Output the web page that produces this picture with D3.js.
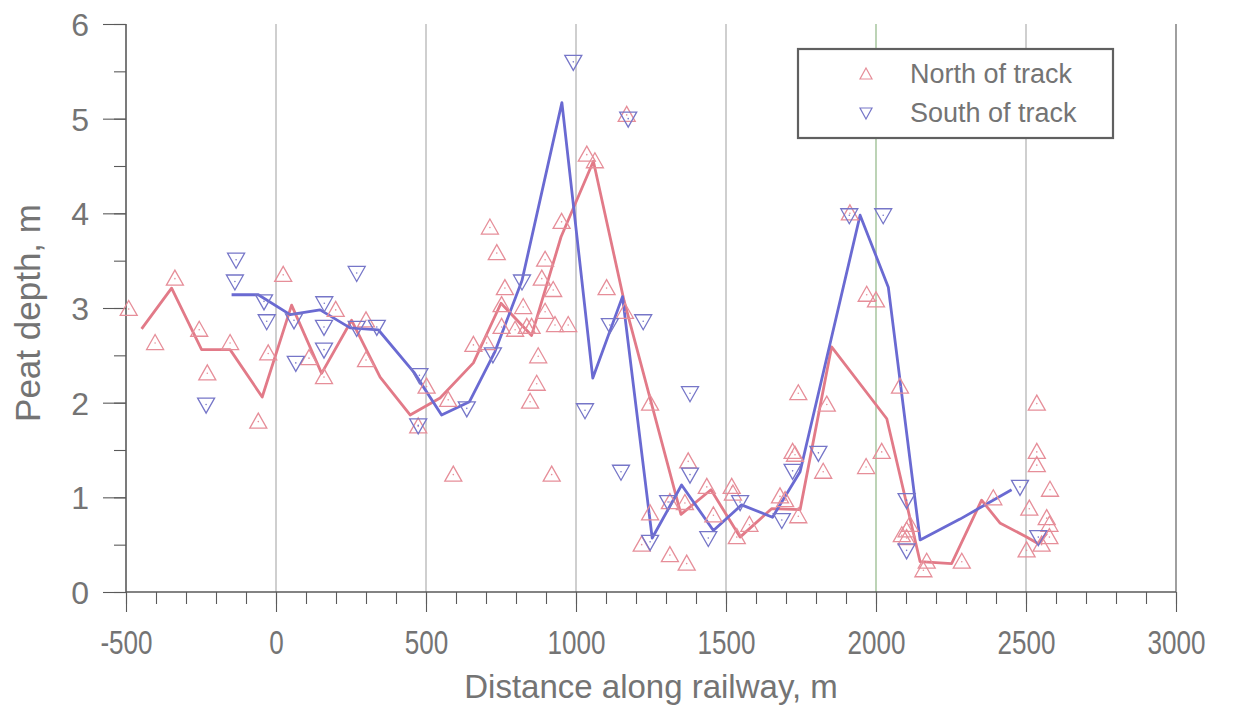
<!DOCTYPE html>
<html>
<head>
<meta charset="utf-8">
<script src="https://cdn.jsdelivr.net/npm/d3@7"></script>
<style>
  html, body { margin: 0; padding: 0; background: #ffffff; }
  svg { display: block; }
  text { font-family: "Liberation Sans", Arial, sans-serif; fill: #747474; }
</style>
</head>
<body>
<svg id="chart" width="1233" height="711"></svg>
<script>
// Peat depth surveys along the railway: individual soundings and running lines
const northPoints = [
  [-491,2.99],[-403,2.63],[-337,3.31],[-256,2.77],[-229,2.31],[-153,2.63],[-59,1.80],[-26,2.52],
  [24,3.35],[110,2.47],[160,2.27],[199,2.98],[300,2.87],[300,2.45],[474,1.75],[502,2.17],
  [574,2.03],[591,1.24],[658,2.61],[702,2.63],[713,3.85],[736,3.58],[763,3.21],[752,3.03],
  [752,2.80],[797,2.77],[824,3.01],[836,2.80],[852,2.80],[847,2.01],[869,2.20],[874,2.49],
  [886,3.31],[897,3.51],[897,2.96],[924,3.19],[930,2.82],[974,2.82],[952,3.91],[919,1.24],
  [1036,4.62],[1063,4.55],[1102,3.21],[1163,2.96],[1169,5.04],[1247,1.99],[1247,0.83],[1219,0.50],
  [1313,0.39],[1369,0.30],[1313,0.95],[1374,1.38],[1363,0.94],[1436,1.11],[1458,0.81],[1519,1.11],
  [1523,1.04],[1536,0.58],[1578,0.71],[1680,1.01],[1697,0.97],[1730,1.45],[1741,2.10],[1836,1.98],
  [1722,1.48],[1824,1.27],[1741,0.80],[1913,4.00],[1969,3.14],[2000,3.08],[2080,2.17],[2019,1.48],
  [1967,1.32],[2102,0.65],[2086,0.60],[2102,0.57],[2113,0.71],[2158,0.23],[2169,0.32],[2286,0.32],
  [2391,0.99],[2536,1.99],[2536,1.48],[2536,1.34],[2580,1.08],[2511,0.88],[2569,0.78],[2578,0.71],
  [2578,0.58],[2502,0.44],[2552,0.50]
];
const southPoints = [
  [-133,3.51],[-137,3.28],[-233,1.98],[-40,3.07],[-31,2.86],[60,2.87],[66,2.42],[161,3.05],
  [160,2.80],[160,2.56],[269,3.37],[269,2.79],[336,2.80],[478,2.29],[474,1.76],[636,1.94],
  [723,2.51],[820,3.28],[991,5.60],[1030,1.92],[1113,2.82],[1174,5.00],[1224,2.86],[1150,1.27],
  [1247,0.53],[1307,0.95],[1380,2.10],[1380,1.24],[1441,0.57],[1547,0.95],[1686,0.76],[1722,1.28],
  [1808,1.47],[1911,3.98],[2024,3.98],[2102,0.97],[2102,0.44],[2480,1.11],[2541,0.58]
];
const northLineX = [-448,-348,-248,-153,-46,52,152,252,347,447,547,658,750,852,950,1058,1160,1350,1450,1547,1652,1747,1852,2036,2147,2252,2352,2413,2502,2541,2569];
const northLineY = [2.78,3.21,2.56,2.56,2.06,3.03,2.31,2.87,2.27,1.87,2.05,2.42,3.05,2.71,3.75,4.55,3.08,0.82,1.08,0.58,0.88,0.87,2.59,1.83,0.32,0.30,0.97,0.73,0.58,0.51,0.62];
const southLineX = [-148,-59,47,147,247,341,460,552,645,730,820,953,1056,1155,1254,1352,1458,1552,1655,1747,1947,2041,2147,2280,2452];
const southLineY = [3.14,3.14,2.93,2.98,2.79,2.77,2.32,1.87,2.01,2.54,3.29,5.17,2.26,3.12,0.57,1.13,0.65,0.92,0.79,1.27,3.98,3.22,0.55,0.77,1.08];
const xTicks = [-500,0,500,1000,1500,2000,2500,3000];
const yTicks = [0,1,2,3,4,5,6];
const seriesNames = ["North of track","South of track"];

const colors = {
  northLine: "#e27a88", northMark: "#e68e99",
  southLine: "#6a6ad2", southMark: "#7676c8",
  grid: "#a8a8a8", gridGreen: "#86b07a", axis: "#5a5a5a"
};

const svg = d3.select("#chart");
const plotLeft = 126, plotRight = 1176, plotTop = 24, plotBottom = 592;
const x = d3.scaleLinear().domain([-500, 3000]).range([plotLeft, plotRight]);
const y = d3.scaleLinear().domain([0, 6]).range([plotBottom, plotTop]);
const plainInt = v => String(v);   // hyphen-minus for negative labels

// vertical grid lines
const grid = svg.append("g");
xTicks.filter(v => v > -500).forEach(v => {
  grid.append("line")
    .attr("x1", x(v)).attr("x2", x(v)).attr("y1", y(6)).attr("y2", y(0))
    .attr("stroke", v === 2000 ? colors.gridGreen : (v === 3000 ? "#777" : colors.grid))
    .attr("stroke-width", v === 3000 ? 1.4 : 1.1);
});

// x axis: minor ticks every 100 m, labelled majors every 500 m (narrow digits)
const xAxis = svg.append("g").attr("transform", `translate(0,${plotBottom})`);
xAxis.call(d3.axisBottom(x).tickValues(d3.range(-500, 3001, 100)).tickSize(12).tickFormat(""));
xAxis.append("g").call(d3.axisBottom(x).tickValues(xTicks).tickSize(20).tickFormat(plainInt))
  .call(g => g.selectAll("text")
    .attr("y", 0).attr("dy", 0)
    .attr("transform", "translate(0,62) scale(0.79,1)")
    .style("font-size", "33px"));
xAxis.selectAll(".domain").remove();
xAxis.selectAll("line").attr("stroke", colors.axis).attr("stroke-width", 1.1);
xAxis.append("line").attr("x1", plotLeft).attr("x2", plotRight).attr("stroke", colors.axis).attr("stroke-width", 1.6);
xAxis.selectAll("text").attr("fill", "#747474").attr("font-family", "Liberation Sans, Arial, sans-serif");

// y axis: minor ticks every 0.5 m
const yAxis = svg.append("g").attr("transform", `translate(${plotLeft},0)`);
yAxis.call(d3.axisLeft(y).tickValues(d3.range(0, 6.01, 0.5)).tickSize(12).tickFormat(""));
yAxis.append("g").call(d3.axisLeft(y).tickValues(yTicks).tickSize(23).tickFormat(plainInt))
  .call(g => g.selectAll("text").attr("x", -37).attr("dy", "0.36em").style("font-size", "32px"));
yAxis.selectAll(".domain").remove();
yAxis.selectAll("line").attr("stroke", colors.axis).attr("stroke-width", 1.1);
yAxis.append("line").attr("y1", plotTop).attr("y2", plotBottom).attr("stroke", colors.axis).attr("stroke-width", 1.6);
yAxis.selectAll("text").attr("fill", "#747474").attr("font-family", "Liberation Sans, Arial, sans-serif");

// axis titles
svg.append("text").attr("x", (plotLeft + plotRight) / 2).attr("y", 698).attr("text-anchor", "middle")
  .style("font-size", "33px").text("Distance along railway, m");
svg.append("text").attr("transform", `translate(40,${(plotTop + plotBottom) / 2 + 5}) rotate(-90)`)
  .attr("text-anchor", "middle").style("font-size", "35px").text("Peat depth, m");

// lines
const line = d3.line().x(d => x(d[0])).y(d => y(d[1]));
const northLine = northLineX.map((v, i) => [v, northLineY[i]]);
const southLine = southLineX.map((v, i) => [v, southLineY[i]]);
svg.append("path").datum(northLine).attr("d", line).attr("fill", "none")
  .attr("stroke", colors.northLine).attr("stroke-width", 2.8).attr("stroke-linejoin", "round");
svg.append("path").datum(southLine).attr("d", line).attr("fill", "none")
  .attr("stroke", colors.southLine).attr("stroke-width", 2.8).attr("stroke-linejoin", "round");

// triangle markers
const upTri = "M0,-8.5 L8.5,6.5 L-8.5,6.5 Z";
const downTri = "M0,8.5 L8.5,-6.5 L-8.5,-6.5 Z";
function markers(data, path, color) {
  const g = svg.append("g");
  const m = g.selectAll("g").data(data).join("g")
    .attr("transform", d => `translate(${x(d[0])},${y(d[1])})`);
  m.append("path").attr("d", path).attr("fill", "none").attr("stroke", color).attr("stroke-width", 1.3);
  m.append("circle").attr("r", 0.8).attr("fill", color);
}
markers(northPoints, upTri, colors.northMark);
markers(southPoints, downTri, colors.southMark);

// legend
const lg = svg.append("g");
lg.append("rect").attr("x", 798).attr("y", 49).attr("width", 315).attr("height", 89)
  .attr("fill", "#ffffff").attr("stroke", "#606060").attr("stroke-width", 2.2);
const items = [
  { name: seriesNames[0], path: "M0,-6 L6,5 L-6,5 Z", color: colors.northMark, cy: 74 },
  { name: seriesNames[1], path: "M0,6 L6,-5 L-6,-5 Z", color: colors.southMark, cy: 113 }
];
items.forEach(it => {
  lg.append("path").attr("d", it.path).attr("transform", `translate(866,${it.cy})`)
    .attr("fill", "none").attr("stroke", it.color).attr("stroke-width", 1.2);
  lg.append("text").attr("x", 910).attr("y", it.cy + 9).style("font-size", "27px").text(it.name);
});
</script>
</body>
</html>
